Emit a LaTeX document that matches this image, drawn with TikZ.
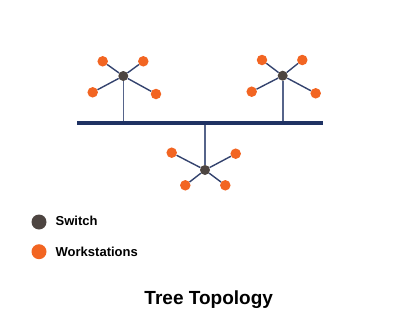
\documentclass[tikz,border=0pt]{standalone}
\usepackage{fontspec}
\setmainfont{Liberation Sans}
\definecolor{ws}{HTML}{F26522}
\definecolor{sw}{HTML}{4D4541}
\definecolor{bus}{HTML}{1F3263}
\definecolor{ln}{HTML}{34436E}
\definecolor{vl}{HTML}{56648A}
\begin{document}
\begin{tikzpicture}[x=1pt,y=-1pt,
  wsn/.style={circle,fill=ws,inner sep=0pt,minimum size=10.5pt},
  swn/.style={circle,fill=sw,inner sep=0pt,minimum size=10pt},
  link/.style={draw=ln,line width=1.4pt},
  drop/.style={draw=vl,line width=1.6pt},
  lbl/.style={font=\bfseries\fontsize{13}{15}\selectfont,anchor=west,inner sep=0pt}]
\useasboundingbox (0,0) rectangle (400,335);
% bus
\coordinate (busL) at (77,123.3);
\coordinate (busR) at (323,123.3);
% switches
\node[swn] (s1) at (123.3,76) {};
\node[swn] (s2) at (282.7,75.7) {};
\node[swn] (s3) at (205,170) {};
% drops
\draw[drop] (s1) -- (s1 |- busL);
\draw[drop] (s2) -- (s2 |- busL);
\draw[drop] (s3) -- (s3 |- busL);
\draw[draw=bus,line width=4pt] (busL) -- (busR);
% workstations 1
\node[wsn] (a1) at (102.7,61.3) {};
\node[wsn] (a2) at (143.3,61.3) {};
\node[wsn] (a3) at (92.7,92.3) {};
\node[wsn] (a4) at (156,94) {};
% workstations 2
\node[wsn] (b1) at (262,60) {};
\node[wsn] (b2) at (302.3,60) {};
\node[wsn] (b3) at (251.7,91.7) {};
\node[wsn] (b4) at (315.7,93.3) {};
% workstations 3
\node[wsn] (c1) at (171.7,152.7) {};
\node[wsn] (c2) at (235.7,153.7) {};
\node[wsn] (c3) at (185.3,185.3) {};
\node[wsn] (c4) at (225.3,185.3) {};
\foreach \w in {a1,a2,a3,a4} \draw[link] (s1) -- (\w);
\foreach \w in {b1,b2,b3,b4} \draw[link] (s2) -- (\w);
\foreach \w in {c1,c2,c3,c4} \draw[link] (s3) -- (\w);
% legend
\node[circle,fill=sw,inner sep=0pt,minimum size=15pt] (lsw) at (39,222) {};
\node[circle,fill=ws,inner sep=0pt,minimum size=15pt] (lws) at (39,251.7) {};
\node[lbl] (tsw) at (55.5,220.5) {Switch};
\node[lbl] (tws) at (55.5,251.5) {Workstations};
\node[font=\bfseries\fontsize{19}{22}\selectfont,inner sep=0pt] (title) at (208.7,299.5) {Tree Topology};
\end{tikzpicture}
\end{document}
